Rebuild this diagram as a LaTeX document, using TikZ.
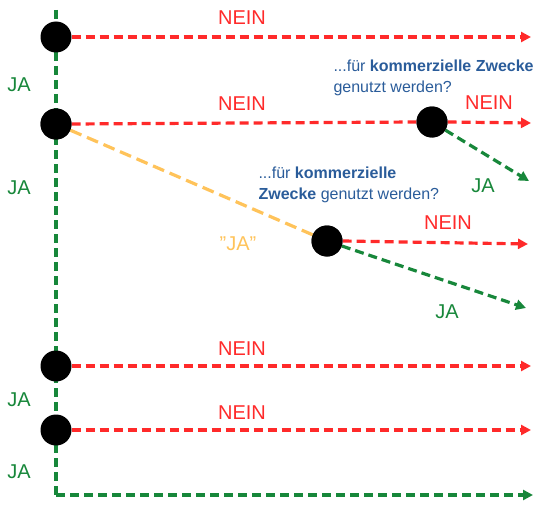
\documentclass[tikz,border=0pt]{standalone}
\usepackage{fontspec}
\setmainfont{Liberation Sans}
\usetikzlibrary{arrows.meta}
\definecolor{nred}{HTML}{FF2A2A}
\definecolor{jgreen}{HTML}{17873A}
\definecolor{jorange}{HTML}{FFC35A}
\definecolor{qblue}{HTML}{2A5C9A}
\tikzset{
  dot/.style={circle,fill=black,minimum size=31pt,inner sep=0pt},
  neinline/.style={draw=nred,line width=3.2pt,dash pattern=on 9pt off 5pt,-{Triangle[length=10pt,width=10pt]}},
  jaline/.style={draw=jgreen,line width=3.2pt,dash pattern=on 9pt off 5pt},
  jaarrow/.style={jaline,-{Triangle[length=10pt,width=10pt]}},
  qaline/.style={draw=jorange,line width=3.2pt,dash pattern=on 12pt off 6pt},
  nein/.style={text=nred,font=\fontsize{20}{20}\selectfont},
  ja/.style={text=jgreen,font=\fontsize{20}{20}\selectfont},
  qja/.style={text=jorange,font=\fontsize{20}{20}\selectfont},
  quest/.style={text=qblue,font=\fontsize{16}{20.5}\selectfont,align=left,anchor=west}
}
\begin{document}
\begin{tikzpicture}[x=1pt,y=-1pt]
\useasboundingbox (0,0) rectangle (533,511);
% coordinates
\coordinate (top) at (56,10);
\coordinate (corner) at (56,495);
\coordinate (e1) at (531,37);
\coordinate (e3) at (531,123);
\coordinate (e3j) at (529,181);
\coordinate (e4) at (528,244);
\coordinate (e4j) at (526,308);
\coordinate (e5) at (531,366);
\coordinate (e6) at (531,430);
\coordinate (e7) at (533,495);
% green trunk
\draw[jaline] (top) -- (corner);
\draw[jaarrow] (corner) -- (e7);
% nodes
\node[dot] (n1) at (56,37) {};
\node[dot] (n2) at (56,124) {};
\node[dot] (n3) at (432,122) {};
\node[dot] (n4) at (327,241) {};
\node[dot] (n5) at (56,366) {};
\node[dot] (n6) at (56,430) {};
% connectors
\draw[neinline] (n1.east) -- (e1);
\draw[neinline,-] (n2.east) -- (n3.west);
\draw[qaline] (n2) -- (n4);
\draw[neinline] (n3.east) -- (e3);
\draw[jaarrow] (n3) -- (e3j);
\draw[neinline] (n4.east) -- (e4);
\draw[jaarrow] (n4) -- (e4j);
\draw[neinline] (n5.east) -- (e5);
\draw[neinline] (n6.east) -- (e6);
\node[dot] at (n2) {};
\node[dot] at (n3) {};
\node[dot] at (n4) {};
% labels
\node[nein] (l1) at (242,18) {NEIN};
\node[nein] (l2) at (242,104) {NEIN};
\node[nein] (l3) at (489,103) {NEIN};
\node[nein] (l4) at (448,223) {NEIN};
\node[nein] (l5) at (242,349) {NEIN};
\node[nein] (l6) at (242,413) {NEIN};
\node[ja] (j1) at (19,85) {JA};
\node[ja] (j2) at (19,188) {JA};
\node[ja] (j3) at (483,186) {JA};
\node[ja] (j4) at (447,312) {JA};
\node[ja] (j5) at (19,400) {JA};
\node[ja] (j6) at (19,472) {JA};
\node[qja] (qj) at (238,244) {"JA"};
\node[quest] (q1) at (330,78) {...für \textbf{kommerzielle Zwecke}\\genutzt werden?};
\node[quest] (q2) at (255,185) {...für \textbf{kommerzielle}\\\textbf{Zwecke} genutzt werden?};
\end{tikzpicture}
\end{document}
